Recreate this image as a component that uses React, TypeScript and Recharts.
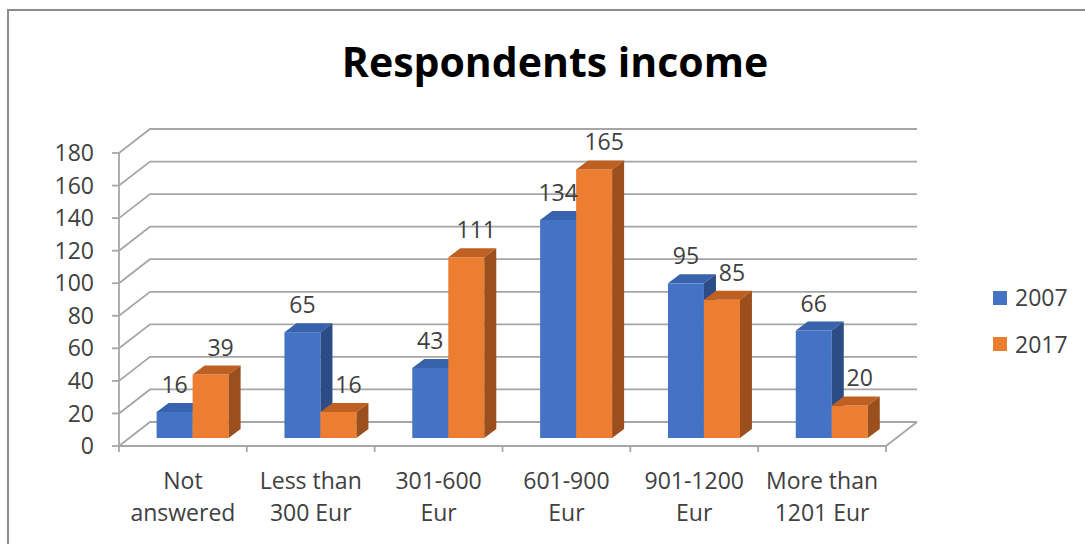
import React from 'react';
import { BarChart, Bar, XAxis, YAxis, CartesianGrid, LabelList } from 'recharts';

const CATEGORIES = ['Not answered', 'Less than 300 Eur', '301-600 Eur', '601-900 Eur', '901-1200 Eur', 'More than 1201 Eur'];
const TICK_LINES = [
  ['Not', 'answered'],
  ['Less than', '300 Eur'],
  ['301-600', 'Eur'],
  ['601-900', 'Eur'],
  ['901-1200', 'Eur'],
  ['More than', '1201 Eur'],
];
const VALUES_2007 = [16, 65, 43, 134, 95, 66];
const VALUES_2017 = [39, 16, 111, 165, 85, 20];
const Y_TICKS = [0, 20, 40, 60, 80, 100, 120, 140, 160, 180];

const data = CATEGORIES.map((name, i) => ({
  name,
  lines: TICK_LINES[i],
  y2007: VALUES_2007[i],
  y2017: VALUES_2017[i],
}));

const FONT = '"Open Sans", sans-serif';
const GRID = '#a6a6a6';
const TEXT = '#404040';

// oblique "3d" offsets
const WALL_DX = 31;
const WALL_DY = -24;
const BAR_DX = 10;
const BAR_DY = -8;
const DEPTH_DX = 12;
const DEPTH_DY = -9;

const GridLine = (props: any) => {
  const { x1, y1, x2, y, height, index } = props;
  const bx = x1 + WALL_DX;
  const by = y1 + WALL_DY;
  const isFloor = Math.abs(y1 - (y + height)) < 1;
  const n = CATEGORIES.length;
  const step = (x2 - x1) / n;
  return (
    <g key={`grid-${index}`}>
      <path d={`M${x1},${y1} L${bx},${by} L${x2 + WALL_DX},${by}`} stroke={GRID} strokeWidth={1.8} fill="none" />
      {isFloor && (
        <>
          <path d={`M${x2},${y1} L${x2 + WALL_DX},${by}`} stroke={GRID} strokeWidth={1.8} fill="none" />
          {Array.from({ length: n + 1 }).map((_, k) => (
            <line key={k} x1={x1 + k * step} x2={x1 + k * step} y1={y1} y2={y1 + 6} stroke={GRID} strokeWidth={1.8} />
          ))}
        </>
      )}
    </g>
  );
};

const Bar3D = (props: any) => {
  const { x, y, width, height, fill, topFill, sideFill } = props;
  if (width == null || height == null) return null;
  const fx = x + BAR_DX;
  const fy = y + BAR_DY;
  const w = width;
  const h = height;
  return (
    <g>
      <rect x={fx} y={fy} width={w} height={h} fill={fill} />
      <path
        d={`M${fx},${fy} L${fx + DEPTH_DX},${fy + DEPTH_DY} L${fx + w + DEPTH_DX},${fy + DEPTH_DY} L${fx + w},${fy} Z`}
        fill={topFill}
      />
      <path
        d={`M${fx + w},${fy} L${fx + w + DEPTH_DX},${fy + DEPTH_DY} L${fx + w + DEPTH_DX},${fy + h + DEPTH_DY} L${fx + w},${fy + h} Z`}
        fill={sideFill}
      />
    </g>
  );
};

const DataLabel = (props: any) => {
  const { x, y, width, value, shift } = props;
  return (
    <text
      x={x + BAR_DX + width / 2 + shift}
      y={y + BAR_DY - 19}
      textAnchor="middle"
      fontFamily={FONT}
      fontSize={23}
      fill={TEXT}
    >
      {value}
    </text>
  );
};

const CategoryTick = (props: any) => {
  const { x, y, index } = props;
  const lines = TICK_LINES[index] || [];
  return (
    <g>
      {lines.map((t, i) => (
        <text key={i} x={x} y={y + 43 + i * 32} textAnchor="middle" fontFamily={FONT} fontSize={23} fill={TEXT}>
          {t}
        </text>
      ))}
    </g>
  );
};

const SERIES = [
  { key: 'y2007', name: '2007', fill: '#4472C4', top: '#3862AC', side: '#2C4C86', shift: 0 },
  { key: 'y2017', name: '2017', fill: '#ED7D31', top: '#BF6023', side: '#9B4F1D', shift: 10 },
];

export default function App() {
  return (
    <div style={{ position: 'fixed', left: 0, top: 0, width: 1085, height: 544, overflow: 'hidden', background: '#fff' }}>
      <div
        style={{
          position: 'absolute',
          left: 7,
          top: 9,
          width: 1200,
          height: 700,
          border: '2px solid #8c8c8c',
          boxSizing: 'border-box',
        }}
      />
      <div style={{ position: 'absolute', left: 0, top: 0 }}>
        <BarChart
          width={1085}
          height={544}
          data={data}
          margin={{ top: 153, right: 199, left: 59, bottom: 8 }}
          barCategoryGap="21.6%"
          barGap={0}
        >
          <CartesianGrid vertical={false} horizontal={GridLine as any} />
          <XAxis
            dataKey="name"
            height={90}
            axisLine={{ stroke: GRID, strokeWidth: 1.8 }}
            tickLine={false}
            tickSize={0}
            tickMargin={0}
            interval={0}
            tick={<CategoryTick />}
          />
          <YAxis
            width={60}
            domain={[0, 180]}
            ticks={Y_TICKS}
            interval={0}
            axisLine={{ stroke: GRID, strokeWidth: 1.8 }}
            tickLine={{ stroke: GRID, strokeWidth: 1.8 }}
            tickSize={7}
            tickMargin={18}
            tick={{ fill: TEXT, fontSize: 23, fontFamily: FONT }}
          />
          {SERIES.map((s) => (
            <Bar
              key={s.key}
              dataKey={s.key}
              name={s.name}
              fill={s.fill}
              isAnimationActive={false}
              shape={(p: any) => <Bar3D {...p} topFill={s.top} sideFill={s.side} />}
            >
              <LabelList dataKey={s.key} content={(p: any) => <DataLabel {...p} shift={s.shift} />} />
            </Bar>
          ))}
        </BarChart>
      </div>
      <svg width={1085} height={544} style={{ position: 'absolute', left: 0, top: 0, pointerEvents: 'none' }}>
        <text x={555} y={77} textAnchor="middle" fontFamily={FONT} fontWeight={700} fontSize={41} fill="#000">
          Respondents income
        </text>
        {SERIES.map((s, i) => (
          <g key={s.key}>
            <rect x={993} y={291 + i * 46} width={14} height={14} fill={s.fill} />
            <text x={1015} y={306 + i * 47} fontFamily={FONT} fontSize={23} fill={TEXT}>
              {s.name}
            </text>
          </g>
        ))}
      </svg>
    </div>
  );
}
